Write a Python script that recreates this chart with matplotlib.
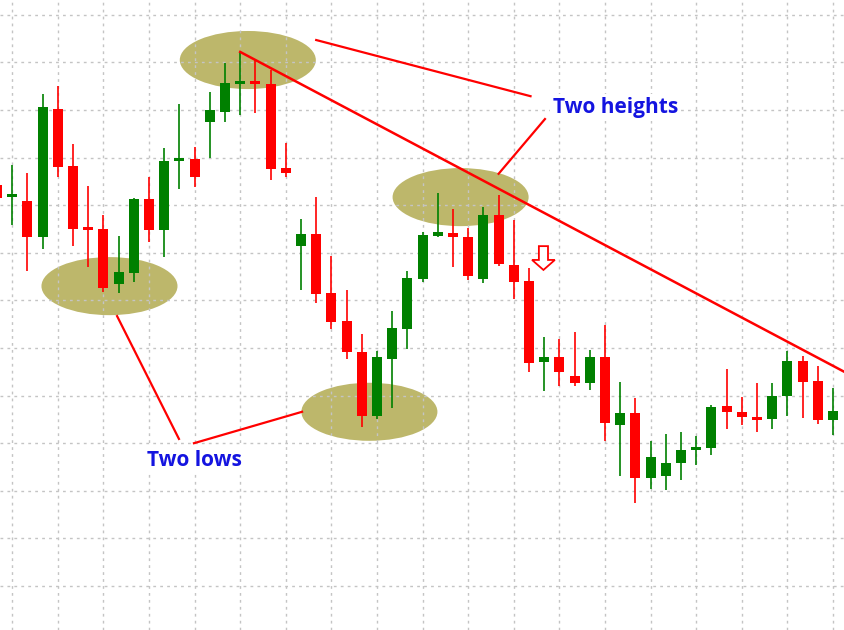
import matplotlib
matplotlib.use('Agg')
import matplotlib.pyplot as plt
from matplotlib.patches import Ellipse, Polygon
import numpy as np

# OHLC values (grid step = 10)
opens = [84.2, 81.7, 80.9, 73.3, 100.2, 88.2, 75.0, 75.0, 63.4, 65.8,
         81.3, 74.8, 89.3, 89.7, 97.5, 99.6, 105.5, 105.9, 105.5, 87.8,
         71.4, 73.9, 61.6, 55.7, 49.2, 35.7, 47.7, 54.0, 64.5, 73.5,
         74.2, 73.3, 64.5, 77.9, 67.4, 64.1, 47.1, 48.1, 44.1, 42.6,
         48.1, 33.8, 36.3, 22.7, 23.1, 25.8, 28.6, 29.0, 37.8, 36.6,
         35.3, 35.1, 39.9, 47.3, 43.1, 34.9]
highs = [85.3, 88.4, 86.8, 103.4, 105.0, 92.9, 84.0, 77.9, 73.5, 81.5,
         85.9, 92.0, 101.3, 92.2, 103.8, 109.9, 112.2, 110.5, 108.4, 93.1,
         77.1, 81.7, 69.3, 62.2, 52.9, 49.4, 57.8, 66.2, 74.4, 82.6,
         79.2, 75.2, 79.6, 82.1, 76.9, 66.8, 52.3, 51.9, 53.4, 49.6,
         54.8, 42.9, 39.5, 30.5, 31.9, 32.4, 31.5, 38.0, 45.6, 39.7,
         42.6, 42.6, 49.4, 48.3, 46.2, 41.6]
lows = [80.5, 75.8, 66.2, 70.8, 85.9, 71.4, 67.0, 61.8, 61.6, 63.9,
        72.3, 69.1, 83.4, 83.8, 89.9, 97.5, 98.9, 99.4, 85.3, 85.9,
        62.2, 59.5, 54.0, 47.7, 33.4, 35.1, 37.4, 49.8, 63.9, 73.3,
        67.0, 64.3, 63.7, 67.2, 60.3, 45.0, 41.0, 42.0, 42.0, 41.2,
        30.5, 23.1, 17.4, 20.4, 20.2, 22.3, 25.4, 27.5, 33.0, 33.8,
        32.4, 33.0, 35.7, 35.3, 34.0, 31.7]
closes = [81.5, 82.4, 73.3, 100.6, 88.0, 75.0, 74.8, 62.6, 66.0, 81.3,
          74.8, 89.3, 89.7, 85.9, 100.0, 105.7, 105.9, 105.5, 87.6, 86.8,
          73.9, 61.3, 55.5, 49.2, 35.7, 48.1, 54.2, 64.7, 73.7, 74.4,
          73.3, 65.1, 77.9, 67.6, 63.9, 46.8, 48.1, 45.0, 42.6, 48.1,
          34.2, 36.3, 22.7, 27.1, 25.8, 28.6, 29.0, 37.6, 36.6, 35.5,
          34.9, 39.9, 47.3, 42.9, 34.9, 36.8]

# annotations (candle index, price)
ellipse_centers = [(16.5, 110.5), (7.4, 63.0), (24.5, 36.6), (30.5, 81.7)]
trend_line = [(16.0, 112.2), (55.8, 44.9)]
pointer_lines = [
    [(21.0, 114.7), (35.1, 102.9)],
    [(36.05, 98.1), (33.0, 86.6)],
    [(7.9, 56.7), (11.97, 30.9)],
    [(12.96, 30.0), (20.07, 36.6)],
]

x = np.arange(len(opens))
o = np.array(opens)
c = np.array(closes)
up = c >= o

fig = plt.figure(figsize=(8.44, 6.3), dpi=100)
ax = fig.add_axes([0, 0, 1, 1])

# grid
ax.set_xticks(np.arange(1, len(opens) + 3, 3))
ax.set_yticks(np.arange(0, 130, 10))
ax.grid(True, color='#c4c4c4', linestyle=(0, (2, 3)), linewidth=1.0, zorder=2)
ax.set_axisbelow(False)
ax.tick_params(length=0, labelbottom=False, labelleft=False)
for s in ax.spines.values():
    s.set_visible(False)

# ellipses
for cx, cy in ellipse_centers:
    ax.add_patch(Ellipse((cx, cy), 8.95, 12.2, facecolor='#bdb76b',
                         edgecolor='none', zorder=1))

# candles
col = np.where(up, '#008000', '#ff0000')
ax.vlines(x, lows, highs, colors=col, linewidth=1.2, zorder=3)
bottom = np.minimum(o, c)
height = np.maximum(np.abs(c - o), 0.6)
ax.bar(x, height, bottom=bottom, width=0.66, color=col, zorder=4)

# red lines
ax.plot(*zip(*trend_line), color='#ff0000', lw=1.8, zorder=5)
for seg in pointer_lines:
    ax.plot(*zip(*seg), color='#ff0000', lw=1.6, zorder=5)

# hollow down arrow
ax_x, ax_top = 35.95, 71.4
arrow = [(ax_x - 0.3, ax_top), (ax_x + 0.3, ax_top), (ax_x + 0.3, ax_top - 2.9),
         (ax_x + 0.75, ax_top - 2.9), (ax_x, ax_top - 5.0), (ax_x - 0.75, ax_top - 2.9),
         (ax_x - 0.3, ax_top - 2.9)]
ax.add_patch(Polygon(arrow, closed=True, facecolor='white', edgecolor='#ff0000',
                     lw=1.3, zorder=5))

# labels
box = dict(facecolor='white', edgecolor='none', pad=2)
ax.text(36.58, 99.4, 'Two heights', color='#1414e0', fontsize=15,
        fontweight='bold', family='Open Sans', va='baseline', ha='left', bbox=box, zorder=6)
ax.text(9.87, 25.2, 'Two lows', color='#1414e0', fontsize=15,
        fontweight='bold', family='Open Sans', va='baseline', ha='left', bbox=box, zorder=6)

ax.set_xlim(3 / 15.2, 847 / 15.2)
ax.set_ylim((586 - 630) / 4.76, 586 / 4.76)

fig.savefig('out.png', dpi=100)
